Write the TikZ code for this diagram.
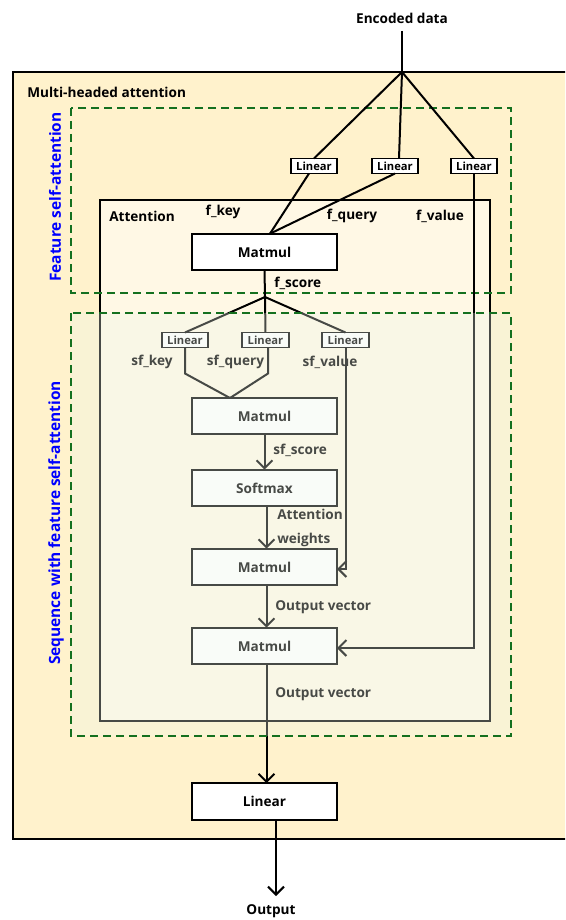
\documentclass[tikz,border=0pt]{standalone}
\usepackage{fontspec}
\setmainfont{Open Sans}
\usetikzlibrary{arrows.meta,calc}
\definecolor{peach}{HTML}{FFF2CC}
\definecolor{dashgreen}{HTML}{14701F}
\definecolor{veil}{HTML}{EEF6EA}
\begin{document}
\begin{tikzpicture}[x=0.75pt,y=-0.75pt,
  font=\fontsize{10.2}{11}\bfseries\selectfont,
  wire/.style={line width=1.5pt},
  arr/.style={wire,-{Straight Barb[length=6pt,width=12pt,line width=1.5pt]}},
  bigbox/.style={draw,line width=1.6pt,fill=white,minimum width=108.75pt,
    minimum height=27.5pt,inner sep=0pt,outer sep=0pt},
  smallbox/.style={draw,line width=1.4pt,fill=white,minimum width=35pt,
    minimum height=11.25pt,inner sep=0pt,outer sep=0pt,
    font=\fontsize{8.4}{9}\bfseries\selectfont},
  lbl/.style={inner sep=0pt,anchor=west},
  clbl/.style={inner sep=0pt},
  frame/.style={dashgreen,line width=1.5pt,dash pattern=on 6pt off 3.75pt},
  side/.style={text=blue,rotate=90,inner sep=0pt,
    font=\fontsize{11.6}{12}\bfseries\selectfont}]
\useasboundingbox (0,0) rectangle (565,920);
\clip (0,0) rectangle (565,920);

% outer block
\draw[fill=peach,line width=1.5pt] (13,72) rectangle (600,839);
\node[lbl] (mha) at (27,92) {Multi-headed attention};

% attention block
\draw[fill=white,fill opacity=0.5,line width=1.5pt] (100,200) rectangle (490,721);
\node[lbl] (attn) at (109,216) {Attention};

% feature self-attention frame
\draw[frame] (71,108) rectangle (511,293);
\node[side] (fsa) at (55,197) {Feature self-attention};
\node[side] (swfsa) at (56,523) {Sequence with feature self-attention};

% input
\node[clbl] (enc) at (402,18) {Encoded data};
\coordinate (split) at (402,72);
\draw[wire] (enc.south |- 0,31) -- (split);

% feature projections
\node[smallbox] (lin1) at (314,166) {Linear};
\node[smallbox] (lin2) at (395,166) {Linear};
\node[smallbox] (lin3) at (474,166) {Linear};
\draw[wire] (split) -- (lin1.north);
\draw[wire] (split) -- ($(lin2.north)+(4,0)$);
\draw[wire] (split) -- (lin3.north);

\node[clbl] (fkey) at (223,212) {f\_key};
\node[clbl] (fquery) at (352,216) {f\_query};
\node[clbl] (fvalue) at (440,216) {f\_value};

\node[bigbox] (mm1) at (264.5,252) {Matmul};
\coordinate (mm1in) at ($(mm1.north)+(5.5,0)$);
\draw[wire] ($(lin1.south)+(-5,0)$) -- (mm1in);
\draw[wire] (lin2.south) -- (mm1in);

% sequence projections
\coordinate (split2) at (265,297);
\draw[wire] (mm1.south) -- (split2);
\node[lbl] (fscore) at (274,283) {f\_score};

\node[smallbox] (slin1) at (185,340) {Linear};
\node[smallbox] (slin2) at (265.5,340) {Linear};
\node[smallbox] (slin3) at (345.5,340) {Linear};
\draw[wire] (split2) -- (slin1.north);
\draw[wire] (split2) -- (slin2.north);
\draw[wire] (split2) -- (slin3.north);

\node[clbl] (sfkey) at (152,362) {sf\_key};
\node[clbl] (sfquery) at (235.5,362) {sf\_query};
\node[clbl] (sfvalue) at (330,362) {sf\_value};

\node[bigbox] (mm2) at (264.5,416) {Matmul};
\coordinate (mm2in) at (230,398);
\draw[wire] (slin1.south) -- ++(0,26) -- (mm2in);
\draw[wire] ($(slin2.south)+(2.5,0)$) -- ++(0,26) -- (mm2in);

\node[bigbox] (soft) at (264.5,488) {Softmax};
\draw[arr] (mm2.south) -- (soft.north);
\node[lbl] (sfscore) at (273,450) {sf\_score};

\node[bigbox] (mm3) at (264.5,567) {Matmul};
\draw[arr] ($(soft.south)+(2,0)$) -- ($(mm3.north)+(2,0)$);
\node[lbl] (aw1) at (277,514) {Attention};
\node[lbl] (aw2) at (277,540) {weights};
\draw[arr] (slin3.south) |- ($(mm3.east)+(0,2)$);

\node[bigbox] (mm4) at (264.5,646) {Matmul};
\draw[arr] ($(mm3.south)+(2,0)$) -- ($(mm4.north)+(2,0)$);
\node[lbl] (ov1) at (275,607) {Output vector};
\draw[arr] (lin3.south) |- ($(mm4.east)+(0,2)$);

% output
\node[bigbox] (linf) at (264.5,801.5) {Linear};
\draw[arr] ($(mm4.south)+(2,0)$) -- ($(linf.north)+(2,0)$);
\node[lbl] (ov2) at (275,694) {Output vector};

\coordinate (outtip) at (276,896);
\node[clbl] (out) at (271,911) {Output};
\draw[arr] (linf.south -| outtip) -- (outtip);

% sequence frame, laid over its contents
\fill[veil,opacity=0.3] (71,313) rectangle (511,736);
\draw[frame] (71,313) rectangle (511,736);
\end{tikzpicture}
\end{document}
